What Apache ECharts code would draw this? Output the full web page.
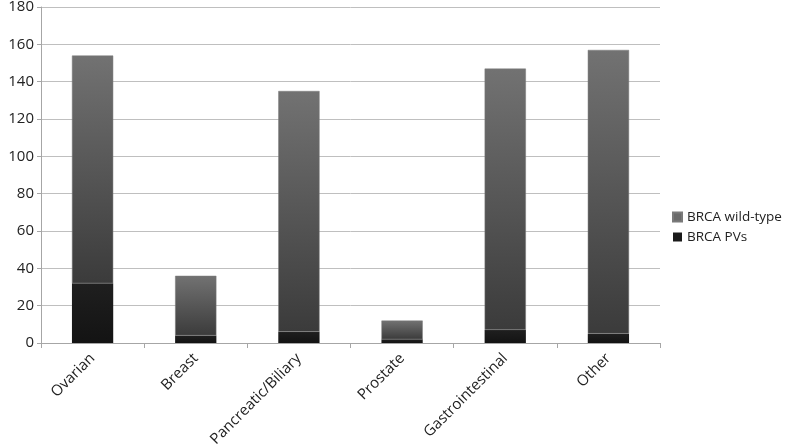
<!DOCTYPE html>
<html><head><meta charset="utf-8">
<script src="https://cdn.jsdelivr.net/npm/echarts@6/dist/echarts.min.js"></script>
<style>html,body{margin:0;padding:0;background:#fff}#c{width:787px;height:448px}</style>
</head><body><div id="c"></div>
<script>
const categories = ['Ovarian','Breast','Pancreatic/Biliary','Prostate','Gastrointestinal','Other'];
const brcaPVs = [32, 4, 6, 2, 7, 5];
const brcaWildType = [122, 32, 129, 10, 140, 152];
const yTicks = [0,20,40,60,80,100,120,140,160,180];

const chart = echarts.init(document.getElementById('c'));
const font = '"Open Sans", "Liberation Sans", sans-serif';
chart.setOption({
  animation: false,
  grid: {left: 41, right: 127, top: 7, bottom: 105, containLabel: false, outerBoundsMode: 'none'},
  legend: {
    orient: 'vertical', left: 667, top: 205, itemWidth: 9, itemHeight: 9, itemGap: 6, icon: 'rect',
    textStyle: {fontFamily: font, fontSize: 13.5, color: '#222'},
    data: [
      {name: 'BRCA wild-type', itemStyle: {color: '#6a6a6a'}},
      {name: 'BRCA PVs', itemStyle: {color: '#1a1a1a'}}
    ]
  },
  xAxis: {
    type: 'category', data: categories,
    axisLine: {lineStyle: {color: '#a6a6a6'}},
    axisTick: {show: true, length: 5, lineStyle: {color: '#a6a6a6'}},
    axisLabel: {rotate: 45, fontFamily: font, fontSize: 15, color: '#222', margin: 13, interval: 0}
  },
  yAxis: {
    type: 'value', min: yTicks[0], max: yTicks[yTicks.length-1], interval: 20,
    axisLine: {show: true, lineStyle: {color: '#a6a6a6'}},
    axisTick: {show: true, length: 4, lineStyle: {color: '#a6a6a6'}},
    axisLabel: {fontFamily: font, fontSize: 15, color: '#222', margin: 7},
    splitLine: {lineStyle: {color: '#bfbfbf'}}
  },
  series: [
    {
      name: 'BRCA PVs', type: 'bar', stack: 'a', data: brcaPVs, barWidth: '40%',
      itemStyle: {
        color: new echarts.graphic.LinearGradient(0,0,0,1,[{offset:0,color:'#1f1f1f'},{offset:1,color:'#131313'}])
      }
    },
    {
      name: 'BRCA wild-type', type: 'bar', stack: 'a', data: brcaWildType, barWidth: '40%',
      itemStyle: {
        color: new echarts.graphic.LinearGradient(0,0,0,1,[{offset:0,color:'#727272'},{offset:1,color:'#3b3b3b'}]),
        borderColor: '#7a7a7a', borderWidth: 0.5
      }
    }
  ]
});
</script></body></html>
